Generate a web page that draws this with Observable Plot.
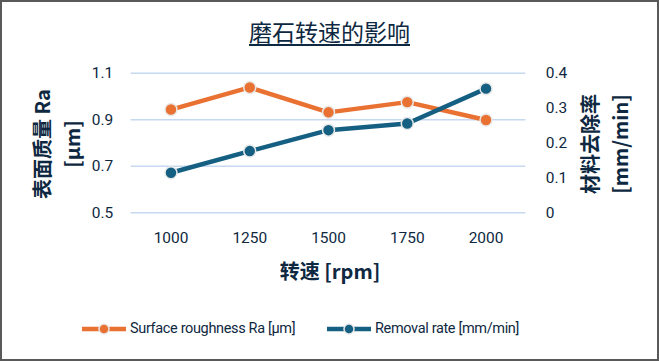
<!DOCTYPE html>
<html>
<head>
<meta charset="utf-8">
<script src="https://cdn.jsdelivr.net/npm/d3@7"></script>
<script src="https://cdn.jsdelivr.net/npm/@observablehq/plot@0.6"></script>
<style>
  html, body { margin: 0; padding: 0; background: #fff; }
  #frame { position: relative; width: 659px; height: 361px; box-sizing: border-box; border: 2px solid #595959; background: #fff; overflow: hidden; font-family: Roboto, "Noto Sans", sans-serif; color: #0e2841; }
  #chart { position: absolute; left: -2px; top: -2px; }
  .abs { position: absolute; white-space: nowrap; }
  #title { left: 0; width: 655px; top: 14px; text-align: center; font-family: "Noto Sans CJK SC", sans-serif; font-size: 23px; line-height: 30px; color: #0e2841; }
  #title span { text-decoration: underline; text-decoration-thickness: 2px; text-underline-offset: 3px; }
  .ytitle { font-family: "Noto Sans CJK SC", sans-serif; font-weight: bold; font-size: 20px; line-height: 30px; text-align: center; transform: translate(-50%, -50%) rotate(-90deg); }
  #xtitle { font-family: "Noto Sans CJK SC", sans-serif; font-weight: bold; font-size: 20px; transform: translate(-50%, -50%); }
  #legend { left: 0; top: 318px; width: 655px; font-size: 14.5px; letter-spacing: -0.35px; }
  .item { position: absolute; display: flex; align-items: center; }
  .item svg { margin-right: 2px; }
</style>
</head>
<body>
<div id="frame">
  <div id="chart"></div>
  <div id="title" class="abs"><span>磨石转速的影响</span></div>
  <div class="abs ytitle" style="left:55px; top:142px;">表面质量 Ra<br>[µm]</div>
  <div class="abs ytitle" style="left:603px; top:142px;">材料去除率<br>[mm/min]</div>
  <div id="xtitle" class="abs" style="left:328px; top:268px;">转速 [rpm]</div>
  <div id="legend" class="abs"></div>
</div>
<script>
const speeds = ["1000", "1250", "1500", "1750", "2000"];
const roughness = [0.944, 1.039, 0.932, 0.976, 0.899];
const removalRate = [0.115, 0.177, 0.237, 0.256, 0.356];
const leftTicks = [0.5, 0.7, 0.9, 1.1];
const rightTicks = [0, 0.1, 0.2, 0.3, 0.4];
const leftDomain = [0.5, 1.1];
const rightDomain = [0, 0.4];
const seriesNames = ["Surface roughness Ra [µm]", "Removal rate [mm/min]"];
const colors = ["#E97132", "#156082"];

const toLeft = v => leftDomain[0] + (v - rightDomain[0]) * (leftDomain[1] - leftDomain[0]) / (rightDomain[1] - rightDomain[0]);
const toRight = v => rightDomain[0] + (v - leftDomain[0]) * (rightDomain[1] - rightDomain[0]) / (leftDomain[1] - leftDomain[0]);

const rData = speeds.map((s, i) => ({speed: s, y: roughness[i]}));
const bData = speeds.map((s, i) => ({speed: s, y: toLeft(removalRate[i])}));

const plot = Plot.plot({
  width: 659,
  height: 361,
  marginLeft: 131,
  marginRight: 132,
  marginTop: 73,
  marginBottom: 148,
  style: {fontFamily: "Roboto, sans-serif", fontSize: "15.5px", color: "#0e2841", background: "transparent"},
  x: {type: "point", domain: speeds, padding: 0.5, label: null},
  y: {domain: leftDomain, label: null},
  marks: [
    Plot.ruleY(leftTicks, {stroke: "#c6d9f0", strokeWidth: 1.5}),
    Plot.axisY({ticks: leftTicks, tickSize: 0, tickPadding: 18, tickFormat: d => String(d), fill: "#0e2841", label: null}),
    Plot.axisY({anchor: "right", ticks: rightTicks.map(toLeft), tickSize: 0, tickPadding: 20, tickFormat: d => String(Math.round(toRight(d) * 10) / 10), fill: "#0e2841", label: null}),
    Plot.axisX({tickSize: 0, tickPadding: 19, fill: "#0e2841", label: null}),
    Plot.lineY(rData, {x: "speed", y: "y", stroke: colors[0], strokeWidth: 4.5}),
    Plot.lineY(bData, {x: "speed", y: "y", stroke: colors[1], strokeWidth: 4.5}),
    Plot.dot(rData, {x: "speed", y: "y", r: 6, fill: colors[0], stroke: "#e8e8e8", strokeWidth: 1.5}),
    Plot.dot(bData, {x: "speed", y: "y", r: 6, fill: colors[1], stroke: "#e8e8e8", strokeWidth: 1.5})
  ]
});
document.getElementById("chart").appendChild(plot);

const legend = document.getElementById("legend");
const lefts = [78, 323];
seriesNames.forEach((name, i) => {
  const item = document.createElement("div");
  item.className = "item";
  item.style.left = lefts[i] + "px";
  item.innerHTML = `<svg width="48" height="16"><line x1="2" y1="8" x2="46" y2="8" stroke="${colors[i]}" stroke-width="4.5"/><circle cx="24" cy="8" r="5" fill="${colors[i]}" stroke="#e8e8e8" stroke-width="1.5"/></svg><span>${name}</span>`;
  legend.appendChild(item);
});
</script>
</body>
</html>
